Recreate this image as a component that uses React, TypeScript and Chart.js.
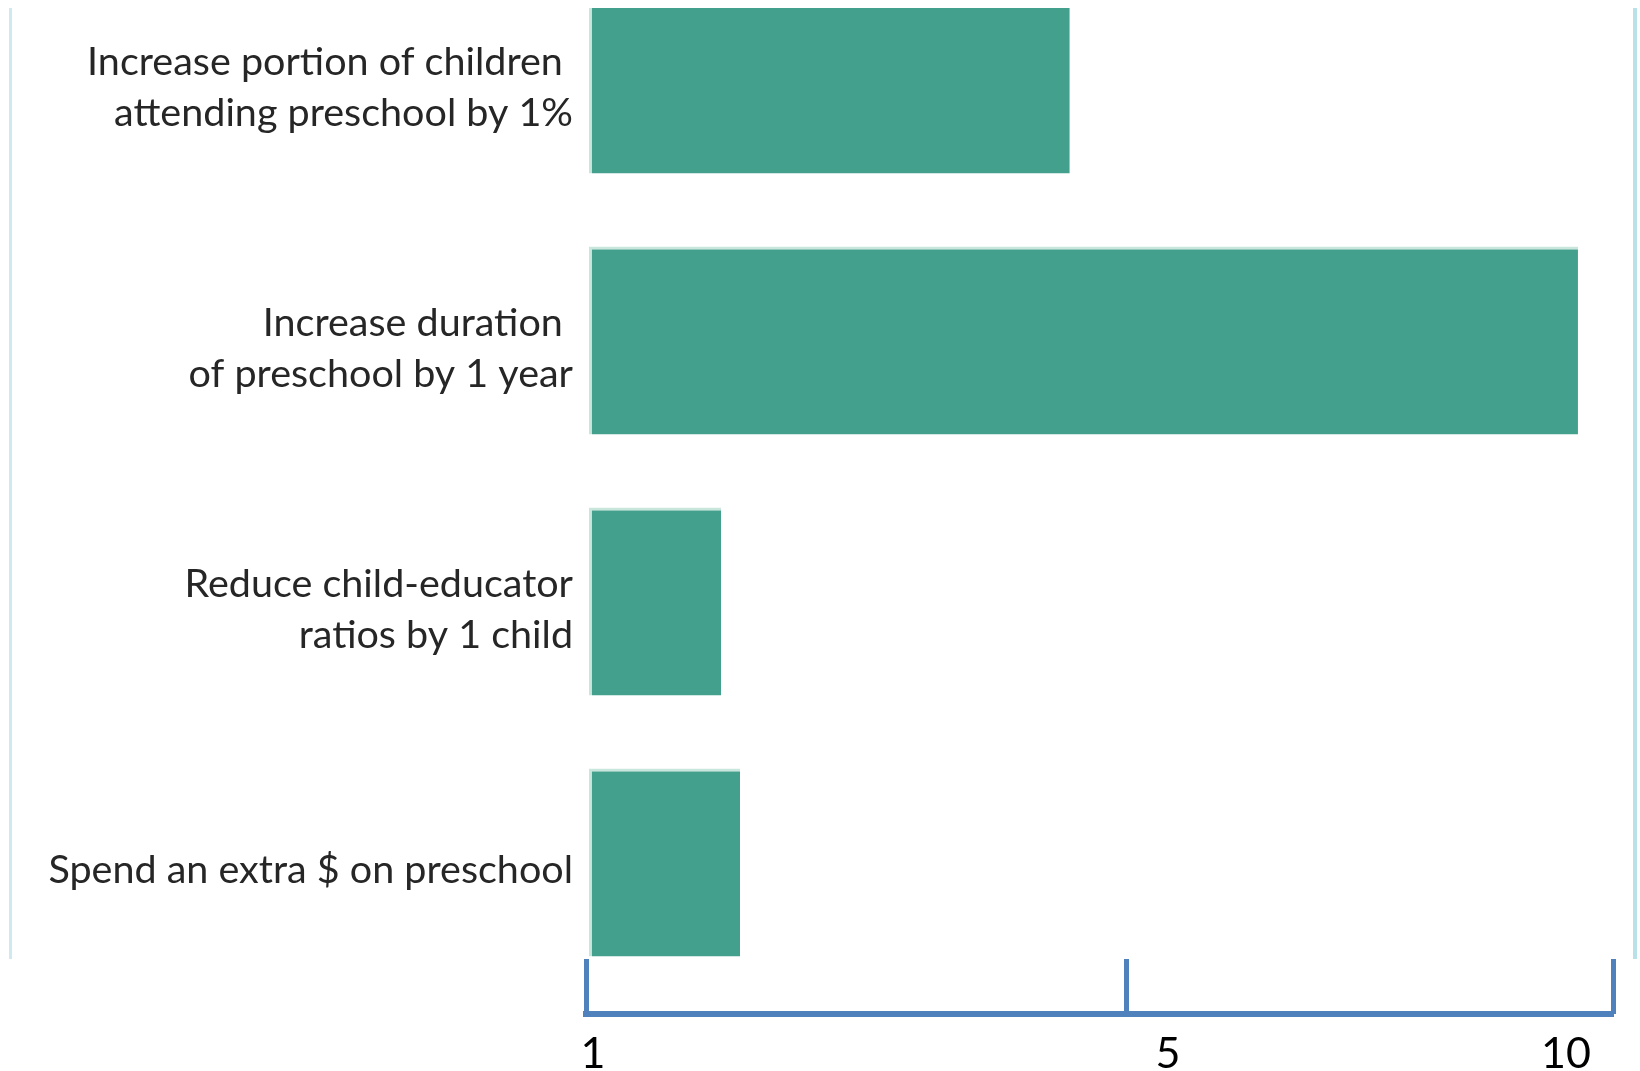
import React, { useEffect, useRef } from 'react';
import { Chart, registerables, LinearScale } from 'chart.js';

Chart.register(...registerables);

// ---- data ----
const CATEGORIES: string[][] = [
  ['Increase portion of children ', 'attending preschool by 1%'],
  ['Increase duration ', 'of preschool by 1 year'],
  ['Reduce child-educator', 'ratios by 1 child'],
  ['Spend an extra $ on preschool'],
];
const VALUES: number[] = [4.58, 9.64, 2.0, 2.14];
const TICK_VALUES: number[] = [1, 5, 10];
const TICK_LABELS: string[] = ['1', '5', '10'];

// piecewise-linear scale (hand-drawn style axis where ticks are not evenly spaced)
function makePiecewiseScale(id: string, knots: number[], fractions: number[]) {
  class PiecewiseScale extends (LinearScale as any) {
    static id = id;
    static defaults = (LinearScale as any).defaults;
    getPixelForValue(value: number) {
      if (value === null || value === undefined || isNaN(value)) return NaN;
      let i = 0;
      while (i < knots.length - 2 && value > knots[i + 1]) i++;
      const t = (value - knots[i]) / (knots[i + 1] - knots[i]);
      const f = fractions[i] + t * (fractions[i + 1] - fractions[i]);
      return (this as any).getPixelForDecimal(f);
    }
    getValueForPixel(pixel: number) {
      const f = (this as any).getDecimalForPixel(pixel);
      let i = 0;
      while (i < fractions.length - 2 && f > fractions[i + 1]) i++;
      const t = (f - fractions[i]) / (fractions[i + 1] - fractions[i]);
      return knots[i] + t * (knots[i + 1] - knots[i]);
    }
  }
  return PiecewiseScale;
}

const TickScale = makePiecewiseScale('piecewiseTicks', TICK_VALUES, [0, 0.5263, 1]);
const LabelScale = makePiecewiseScale('piecewiseLabels', TICK_VALUES, [0.0068, 0.5667, 0.9542]);
Chart.register(TickScale as any, LabelScale as any);

const FONT = "Lato, 'Liberation Sans', sans-serif";
const AXIS_BLUE = '#4f81bd';

const zeroPad = (s: any) => {
  s.paddingTop = 0;
  s.paddingBottom = 0;
  s.paddingLeft = 0;
  s.paddingRight = 0;
};

export default function App() {
  const canvasRef = useRef<HTMLCanvasElement | null>(null);

  useEffect(() => {
    if (!canvasRef.current) return;
    const chart = new Chart(canvasRef.current, {
      type: 'bar',
      data: {
        datasets: [
          {
            data: VALUES.map((v, i) => ({ x: v, y: i })),
            backgroundColor: '#43a08c',
            borderColor: '#c9e6dc',
            borderWidth: { top: 3, left: 3, right: 0, bottom: 0 },
            borderSkipped: false,
            base: 1.022,
            barPercentage: 0.72,
            categoryPercentage: 1,
            clip: 0,
          } as any,
        ],
      },
      options: {
        indexAxis: 'y',
        animation: false,
        responsive: false,
        devicePixelRatio: 1,
        layout: { padding: { top: 8, left: 0, right: 27, bottom: 0 } },
        plugins: { legend: { display: false }, tooltip: { enabled: false }, title: { display: false } },
        scales: {
          y: {
            type: 'linear',
            reverse: true,
            offset: false,
            min: -0.2739,
            max: 3.3697,
            grid: { display: false, drawTicks: false, offset: false },
            border: { display: false },
            afterBuildTicks: (s: any) => {
              s.ticks = CATEGORIES.map((_, i) => ({ value: i }));
            },
            afterFit: (s: any) => {
              s.width = 586;
              zeroPad(s);
            },
            ticks: {
              autoSkip: false,
              padding: 13,
              labelOffset: 8,
              color: '#262626',
              font: { family: FONT, size: 39.5, lineHeight: 51 / 39.5 },
              callback: (value: any) => CATEGORIES[value as number],
            },
          } as any,
          x: {
            type: 'piecewiseTicks',
            position: 'bottom',
            weight: 0,
            min: 1,
            max: 10,
            border: { display: false },
            grid: {
              drawOnChartArea: false,
              drawTicks: true,
              tickLength: 55,
              tickWidth: 5,
              tickColor: AXIS_BLUE,
            },
            afterBuildTicks: (s: any) => {
              s.ticks = TICK_VALUES.map((v) => ({ value: v }));
            },
            afterFit: (s: any) => {
              s.height = 55;
              zeroPad(s);
            },
            ticks: { display: false },
          } as any,
          x2: {
            type: 'piecewiseLabels',
            axis: 'x',
            position: 'bottom',
            weight: 1,
            min: 1,
            max: 10,
            border: { display: true, color: AXIS_BLUE, width: 6 },
            grid: { drawOnChartArea: false, drawTicks: false },
            afterBuildTicks: (s: any) => {
              s.ticks = TICK_VALUES.map((v) => ({ value: v }));
            },
            afterFit: (s: any) => {
              s.height = 57;
              zeroPad(s);
            },
            ticks: {
              autoSkip: false,
              maxRotation: 0,
              minRotation: 0,
              padding: 14,
              color: '#000000',
              font: { family: FONT, size: 43 },
              callback: (_v: any, index: number) => TICK_LABELS[index],
            },
          } as any,
        },
      },
    });
    return () => chart.destroy();
  }, []);

  return (
    <div style={{ position: 'absolute', left: 0, top: 0, width: 1640, height: 1071, background: '#ffffff', overflow: 'hidden' }}>
      <div style={{ position: 'absolute', left: 9, top: 8, width: 3, height: 951, background: '#cfe9f0' }} />
      <div style={{ position: 'absolute', left: 1633, top: 8, width: 4, height: 951, background: '#b9e1ea' }} />
      <canvas ref={canvasRef} width={1640} height={1071} style={{ position: 'absolute', left: 0, top: 0, width: 1640, height: 1071 }} />
    </div>
  );
}
